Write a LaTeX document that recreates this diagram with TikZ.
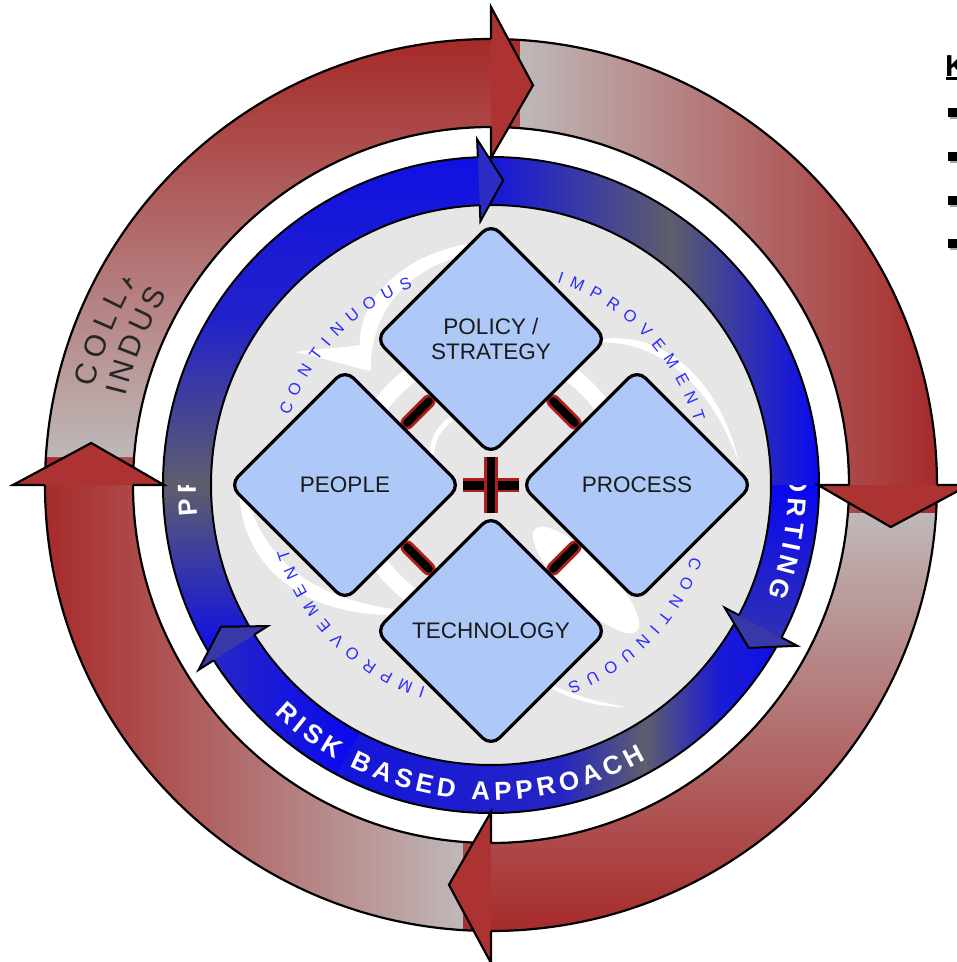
\documentclass[tikz,border=0pt]{standalone}
\usepackage{fontspec}
\setmainfont{Liberation Sans}
\usetikzlibrary{shapes.geometric,calc}
\pgfdeclarelayer{front}
\pgfsetlayers{main,front}

\definecolor{rc}{HTML}{A62626}
\definecolor{gc}{HTML}{BFB8B8}
\definecolor{rhead}{HTML}{AD3333}
\definecolor{bb}{HTML}{0808F2}
\definecolor{bgr}{HTML}{5E5E6C}
\definecolor{bmid}{HTML}{2222CA}
\definecolor{btop}{HTML}{1010E4}
\definecolor{bslate}{HTML}{3232B0}
\definecolor{bthree}{HTML}{1414DC}
\definecolor{bfour}{HTML}{2424C4}
\definecolor{bfive}{HTML}{1A1AD6}
\definecolor{brisk}{HTML}{2626C6}
\definecolor{bheadone}{HTML}{2C2CC4}
\definecolor{bhead}{HTML}{3838A8}
\definecolor{diskgrey}{HTML}{E6E6E6}
\definecolor{diafill}{HTML}{AEC9F7}
\definecolor{diatext}{HTML}{1A1A1A}
\definecolor{conttext}{HTML}{2B2BFF}
\definecolor{colltext}{HTML}{262626}
\definecolor{connred}{HTML}{B01E1E}

\tikzset{
  dia/.style={diamond, aspect=1, draw=black, line width=3.2pt, fill=diafill,
    rounded corners=12pt, minimum width=232pt, minimum height=232pt,
    inner sep=0pt, align=center, text=diatext, font=\fontsize{22.5}{25}\selectfont},
  redbar/.style={draw=connred, line width=13.5pt, line cap=round},
  blackbar/.style={draw=black, line width=8pt, line cap=round},
  ringline/.style={draw=black, line width=2.2pt}
}

\newdimen\arcwd
\newcount\ltrcnt
\def\asp{\ }
\newcommand\fcont{\fontsize{16.5}{18}\selectfont\color{conttext}}
\newcommand\fband{\fontsize{26}{28}\selectfont\bfseries\color{white}}
\newcommand\fcoll{\fontsize{30}{32}\selectfont\color{colltext}}

% #1 baseline radius, #2 start angle, #3 tracking, #4 direction (+1 ccw / -1 cw), #5 font, #6 letters
\newcommand\arcword[6]{%
  \xdef\arcang{#2}%
  \foreach \ch in {#6}{%
    \global\advance\ltrcnt by 1
    \pgfinterruptpicture\setbox0=\hbox{#5\ch}\global\arcwd=\wd0\endpgfinterruptpicture
    \edef\wch{\the\arcwd}%
    \pgfmathsetmacro\amid{\arcang+(#4)*(\wch/2)/(#1)*57.29578}%
    \node[name=ltr\the\ltrcnt, anchor=base, inner sep=0pt, rotate={\amid+(#4)*90}] at (\amid:#1) {#5\ch};%
    \pgfmathsetmacro\anext{\arcang+(#4)*(\wch+#3pt)/(#1)*57.29578}%
    \xdef\arcang{\anext}%
  }%
}

\newcommand\annsec[4]{(#1:#4) arc[start angle=#1, end angle=#2, radius=#4] -- (#2:#3) arc[start angle=#2, end angle=#1, radius=#3] -- cycle}

\newcommand\redhead[1]{%
  \fill[rhead] (#1:478) -- ({#1-6}:402) -- (#1:327) -- cycle;
  \draw[line width=2.2pt, line join=miter] (#1:446) -- (#1:478) -- ({#1-6}:402) -- (#1:327) -- (#1:358);}
\newcommand\bluehead[2]{%
  \fill[#2] (#1:346) -- ({#1-4.6}:305) -- (#1:264) -- cycle;
  \draw[line width=2pt, line join=miter] (#1:328) -- (#1:346) -- ({#1-4.6}:305) -- (#1:264) -- (#1:280);}

\begin{document}
\begin{tikzpicture}[x=1pt,y=1pt]
\useasboundingbox (-491,-477) rectangle (466,485);
\fill[white] (-491,-477) rectangle (466,485);

% ---------- diamonds and inner text (front layer)
\begin{pgfonlayer}{front}
\node[dia] (policy) at (0,146) {POLICY /\\STRATEGY};
\node[dia] (people) at (-146,0) {PEOPLE};
\node[dia] (process) at (146,0) {PROCESS};
\node[dia] (tech) at (0,-146) {TECHNOLOGY};
\arcword{213}{161}{8.1}{-1}{\fcont}{C,O,N,T,I,N,U,O,U,S}
\arcword{213}{72}{8.1}{-1}{\fcont}{I,M,P,R,O,V,E,M,E,N,T}
\arcword{213}{-19.6}{8.1}{-1}{\fcont}{C,O,N,T,I,N,U,O,U,S}
\arcword{213}{-107.8}{8.1}{-1}{\fcont}{I,M,P,R,O,V,E,M,E,N,T}
\end{pgfonlayer}

% ---------- grey disk with white swirl
\fill[diskgrey] (0,0) circle (280);
\begin{scope}
  \clip (0,0) circle (279);
  \draw[white, line width=16pt] (0,0) circle (136);
  \fill[white, rotate around={-45:(95,-95)}] (95,-95) ellipse [x radius=72, y radius=22];
  \fill[white] (-251,15) .. controls (-261,-75) and (-191,-143) .. (-61,-128)
     .. controls (-186,-120) and (-234,-72) .. (-251,15) -- cycle;
  \fill[white] (-5,243) .. controls (-80,238) and (-133,190) .. (-131,140)
     .. controls (-150,137) and (-175,136) .. (-196,133)
     .. controls (-170,128) and (-140,118) .. (-120,114)
     .. controls (-122,170) and (-85,224) .. (-8,232) -- cycle;
  \fill[white] (88,140) .. controls (155,165) and (225,120) .. (248,22)
     .. controls (217,110) and (155,154) .. (88,140) -- cycle;
  \fill[white] (40,-190) .. controls (70,-212) and (100,-222) .. (135,-222)
     .. controls (100,-216) and (70,-206) .. (40,-190) -- cycle;
  \draw[white, line width=5pt, line cap=round] (-41,65) .. controls (-53,56) and (-58,45) .. (-59,33);
\end{scope}

% ---------- blue ring
\fill[btop, even odd rule] (0,0) circle (328) (0,0) circle (280);
\begin{scope}
  \clip \annsec{180}{212.3}{280}{328};
  \shade[top color=bgr, bottom color=bb] (-330,-180) rectangle (-230,0);
\end{scope}
\arcword{295}{185.9}{4.8}{-1}{\fband}{P,R}
\begin{scope}
  \clip \annsec{92.3}{180}{280}{328};
  \shade[bottom color=bgr, top color=btop, middle color=bmid] (-330,0) rectangle (0,330);
\end{scope}
\begin{scope}
  \clip \annsec{-27.7}{0}{280}{328};
  \shade[top color=bb, bottom color=bslate] (240,-160) rectangle (330,0);
\end{scope}
\arcword{298}{2.35}{4.8}{-1}{\fband}{O,R,T,I,N,G}
\begin{scope}
  \clip \annsec{0}{92.3}{280}{328};
  \shade[left color=btop, right color=bgr] (-15,0) rectangle (180,330);
  \shade[left color=bgr, right color=bb] (180,0) rectangle (330,330);
\end{scope}
\begin{scope}
  \clip \annsec{212.3}{242}{280}{328};
  \shade[left color=brisk, right color=bb] (-280,-330) rectangle (-130,-140);
\end{scope}
\begin{scope}
  \clip \annsec{242}{332.3}{280}{328};
  \shade[left color=bthree, right color=bfour] (-160,-330) rectangle (69,-120);
  \shade[left color=bfour, right color=bgr] (69,-330) rectangle (154,-120);
  \shade[left color=bgr, right color=bfive] (154,-330) rectangle (229,-120);
  \shade[left color=bfive, right color=bb] (229,-330) rectangle (330,-120);
\end{scope}
\arcword{315}{226.5}{4.7}{1}{\fband}{R,I,S,K,\asp,B,A,S,E,D,\asp,A,P,P,R,O,A,C,H}
\draw[line width=2pt] (0,0) circle (280) (0,0) circle (328);

% ---------- red ring
\fill[gc!50!rc, even odd rule] (0,0) circle (446) (0,0) circle (358);
\shade[left color=rc, right color=gc]
  (176.401:446) arc[start angle=176.401, end angle=266.401, radius=446]
  -- (265.514:358) arc[start angle=265.514, end angle=175.514, radius=358] -- cycle;
\shade[top color=gc, bottom color=rc]
  (-3.599:446) arc[start angle=-3.599, end angle=-93.599, radius=446]
  -- (-94.486:358) arc[start angle=-94.486, end angle=-4.486, radius=358] -- cycle;
\shade[left color=gc, right color=rc]
  (-3.599:446) arc[start angle=-3.599, end angle=86.272, radius=446]
  -- (85.354:358) arc[start angle=85.354, end angle=-4.486, radius=358] -- cycle;
\shade[top color=rc!43!gc, bottom color=gc]
  (152.346:446) arc[start angle=152.346, end angle=176.401, radius=446]
  -- (175.514:358) arc[start angle=175.514, end angle=144.674, radius=358] -- cycle;
\arcword{409}{166.2}{6.5}{-1}{\fcoll}{C,O,L,L,A}
\arcword{376}{166.4}{4.5}{-1}{\fcoll}{I,N,D,U,S}
\shade[top color=rc, bottom color=rc!43!gc]
  (86.272:446) arc[start angle=86.272, end angle=152.346, radius=446]
  -- (144.674:358) arc[start angle=144.674, end angle=85.354, radius=358] -- cycle;
\draw[ringline] (0,0) circle (446) (0,0) circle (358);

% ---------- arrow heads
\bluehead{92.3}{bheadone}
\bluehead{-27.7}{bhead}
\bluehead{212.3}{bhead}
\redhead{90}
\redhead{0}
\redhead{-90}
\redhead{180}

% ---------- connectors between the four diamonds
\draw[connred, line width=14.5pt] (people.east) -- (process.west);
\draw[black, line width=9pt] (people.east) -- (process.west);
\draw[connred, line width=13.5pt] (policy.south) -- (tech.north);
\draw[black, line width=8pt] (policy.south) -- (tech.north);
\foreach \ea/\eb in {people.north east/policy.south west, policy.south east/process.north west,
                     people.south east/tech.north west, tech.north east/process.south west}{
  \draw[redbar] ($(\ea)!0.12!(\eb)$) -- ($(\ea)!0.88!(\eb)$);
  \draw[blackbar] ($(\ea)!0.12!(\eb)$) -- ($(\ea)!0.88!(\eb)$);
}

% ---------- cut-off key list at the right edge
\node[name=keyhead, anchor=base west, inner sep=0pt, font=\fontsize{30.3}{32}\selectfont\bfseries] at (454,408.3) {K};
\fill (455,405) rectangle (470,407.7);
\foreach \yb in {367.7,324.3,280,236.7}{
  \fill[gray!70] (458.8,\yb-2) rectangle (468,\yb+7);
  \fill[black] (457.3,\yb) rectangle (466.3,\yb+9);
}
\end{tikzpicture}
\end{document}
